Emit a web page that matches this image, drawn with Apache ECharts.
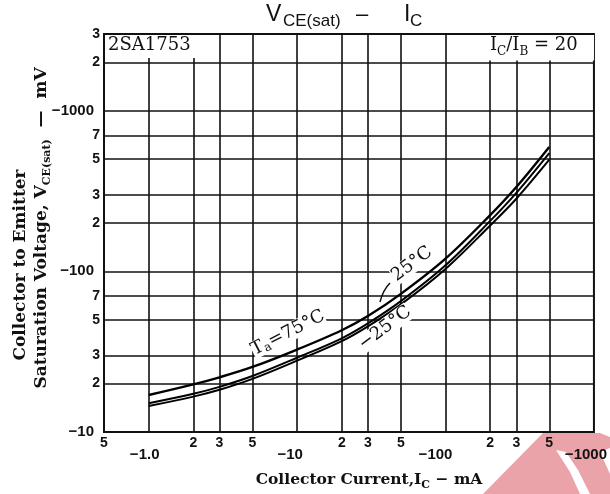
<!DOCTYPE html>
<html>
<head>
<meta charset="utf-8">
<script src="https://cdn.jsdelivr.net/npm/echarts@6/dist/echarts.min.js"></script>
<style>
html,body{margin:0;padding:0;background:#fff;}
#c{width:610px;height:494px;}
</style>
</head>
<body>
<div id="c"></div>
<script>
// Collector current (mA)
var currentMA = [1, 2, 3, 5, 10, 20, 30, 50, 100, 200, 300, 500];
// VCE(sat) (mV) for each ambient temperature
var vce75 = [17.0, 19.8, 21.9, 25.4, 32.6, 43.0, 52.7, 72.4, 120, 224, 335, 595];
var vce25 = [15.1, 17.3, 19.1, 22.3, 29.0, 38.3, 47.4, 65.2, 109, 206, 308, 545];
var vceM25 = [14.5, 16.6, 18.3, 21.4, 27.8, 36.8, 45.5, 62.3, 103.5, 193, 283, 495];

// Axis tick values
var xGrid = [1, 2, 3, 5, 10, 20, 30, 50, 100, 200, 300, 500];
var xMinorLabels = [0.5, 2, 3, 5, 20, 30, 50, 200, 300, 500];
var xDecadeLabels = [1, 10, 100, 1000];
var yGrid = [20, 30, 50, 70, 100, 200, 300, 500, 700, 1000, 2000];
var yMinorLabels = [20, 30, 50, 70, 200, 300, 500, 700, 2000, 3000];
var yDecadeLabels = [10, 100, 1000];

function pairs(ys) { return currentMA.map(function (x, i) { return [x, ys[i]]; }); }
function leadDigit(v) { return String(Math.round(v / Math.pow(10, Math.floor(Math.log10(v) + 1e-9)))); }

var chart = echarts.init(document.getElementById('c'), null, {renderer: 'canvas'});
var lineBlack = {color: '#111', width: 1.6};
var tickFont = {fontFamily: 'Liberation Sans', fontWeight: 'bold', fontSize: 14, color: '#111'};

function decStyle(pr) { return {fontFamily: 'Liberation Sans', fontWeight: 'bold', fontSize: 15, color: '#111', padding: [0, pr, 0, 0]}; }
var xDecadeRich = {a: decStyle(8), b: decStyle(14), c: decStyle(20), d: decStyle(16)};

var subRich = function (size, sub, lh, drop) {
  return {
    n: {font: 'bold ' + size + 'px "DejaVu Serif"', fill: '#111', verticalAlign: 'bottom', lineHeight: lh},
    s: {font: 'bold ' + sub + 'px "DejaVu Serif"', fill: '#111', verticalAlign: 'bottom', lineHeight: lh, padding: [0, 0, -drop, 0]}
  };
};

var option = {
  backgroundColor: '#fff',
  animation: false,
  grid: {left: 104, top: 34, width: 491, height: 398, show: true, borderColor: '#111', borderWidth: 2, backgroundColor: 'transparent'},
  xAxis: [{
    type: 'log', logBase: 10, min: 0.5, max: 1000, position: 'bottom',
    axisLine: {show: false},
    axisTick: {show: false, customValues: xGrid},
    splitLine: {show: true, lineStyle: lineBlack},
    axisLabel: Object.assign({customValues: xMinorLabels, margin: 4, formatter: function (v) { return leadDigit(v); }}, tickFont)
  }, {
    type: 'log', logBase: 10, min: 0.5, max: 1000, position: 'bottom',
    axisLine: {show: false}, axisTick: {show: false}, splitLine: {show: false},
    axisLabel: {customValues: xDecadeLabels, margin: 15, rich: xDecadeRich,
      formatter: function (v) {
        if (v === 1) return '{a|\u22121.0}';
        if (v === 10) return '{b|\u221210}';
        if (v === 100) return '{c|\u2212100}';
        return '{d|\u22121000}';
      }}
  }],
  yAxis: [{
    type: 'log', logBase: 10, min: 10, max: 3000,
    axisLine: {show: false},
    axisTick: {show: false, customValues: yGrid},
    splitLine: {show: true, lineStyle: lineBlack},
    axisLabel: Object.assign({customValues: yMinorLabels, margin: 4, formatter: function (v) { return leadDigit(v); }}, tickFont)
  }, {
    type: 'log', logBase: 10, min: 10, max: 3000, position: 'left',
    axisLine: {show: false}, axisTick: {show: false}, splitLine: {show: false},
    axisLabel: Object.assign({customValues: yDecadeLabels, margin: 10, formatter: function (v) { return '\u2212' + v; }}, tickFont, {fontSize: 15})
  }],
  series: [
    {name: 'Ta=75°C', type: 'line', smooth: 0.35, showSymbol: false, data: pairs(vce75), lineStyle: {color: '#000', width: 2.4}, z: 5},
    {name: '25°C', type: 'line', smooth: 0.35, showSymbol: false, data: pairs(vce25), lineStyle: {color: '#000', width: 2}, z: 5},
    {name: '-25°C', type: 'line', smooth: 0.35, showSymbol: false, data: pairs(vceM25), lineStyle: {color: '#000', width: 2}, z: 5}
  ],
  graphic: [
    // watermark
    {type: 'polygon', z: -10, shape: {points: [[483, 494], [543, 433], [600, 433], [610, 437], [610, 494]]}, style: {fill: '#eaa3a8'}},
    {type: 'polygon', z: -9, shape: {points: [[556, 450], [566, 452], [578, 470], [590, 494], [580, 494], [570, 472]]}, style: {fill: '#fff'}},
    {type: 'polygon', z: -9, shape: {points: [[600, 452], [610, 448], [610, 474]]}, style: {fill: '#fff'}},
    // title
    {type: 'text', left: 266, top: 3, style: {text: 'V', font: '23px "Liberation Sans"', fill: '#111'}},
    {type: 'text', left: 283, top: 13, style: {text: 'CE(sat)', font: '17px "Liberation Sans"', fill: '#111'}},
    {type: 'text', left: 356, top: 4, style: {text: '\u2013', font: '22px "Liberation Sans"', fill: '#111'}},
    {type: 'text', left: 404, top: 3, style: {text: 'I', font: '23px "Liberation Sans"', fill: '#111'}},
    {type: 'text', left: 410, top: 13, style: {text: 'C', font: '17px "Liberation Sans"', fill: '#111'}},
    // label boxes
    {type: 'rect', z: 50, shape: {x: 105, y: 35, width: 100, height: 23}, style: {fill: '#fff'}},
    {type: 'text', z: 51, left: 108, top: 36, style: {text: '2SA1753', font: '18px "DejaVu Serif"', fill: '#111'}},
    {type: 'rect', z: 50, shape: {x: 487.5, y: 35, width: 106.5, height: 25.5}, style: {fill: '#fff'}},
    {type: 'text', z: 51, left: 490, top: 36, style: {
      text: '{n|I}{s|C}{n|/I}{s|B}{n| = 20}',
      rich: {n: {font: '18px "DejaVu Serif"', fill: '#111', verticalAlign: 'bottom', lineHeight: 22},
             s: {font: '12px "DejaVu Serif"', fill: '#111', verticalAlign: 'bottom', lineHeight: 22, padding: [0, 0, -4, 0]}}
    }},
    // curve labels
    {type: 'text', z: 60, x: 288, y: 333, rotation: 27 * Math.PI / 180, style: {
      text: '{n|T}{s|a}{n|=75°C}', align: 'center', verticalAlign: 'middle',
      rich: {n: {font: '18px "DejaVu Serif"', fill: '#111', backgroundColor: '#fff'}, s: {font: '12px "DejaVu Serif"', fill: '#111', backgroundColor: '#fff', padding: [8, 0, 0, 0]}}
    }},
    {type: 'text', z: 60, x: 412, y: 264, rotation: 37 * Math.PI / 180, style: {text: '25°C', align: 'center', verticalAlign: 'middle', font: '18px "DejaVu Serif"', fill: '#111', backgroundColor: '#fff'}},
    {type: 'text', z: 60, x: 385, y: 328, rotation: 37 * Math.PI / 180, style: {text: '\u221225°C', align: 'center', verticalAlign: 'middle', font: '18px "DejaVu Serif"', fill: '#111', backgroundColor: '#fff'}},
    {type: 'bezierCurve', z: 60, shape: {x1: 390, y1: 283, x2: 380, y2: 302, cpx1: 383, cpy1: 290}, style: {stroke: '#111', lineWidth: 1.5, fill: null}},
    // axis titles
    {type: 'text', x: 369, y: 478, style: {
      text: '{n|Collector Current,I}{s|C}{n| \u2212 mA}', align: 'center', verticalAlign: 'middle',
      rich: subRich(15.5, 11, 20, 3)
    }},
    {type: 'text', x: 21, y: 265, rotation: Math.PI / 2, style: {text: 'Collector to Emitter', align: 'center', verticalAlign: 'middle', font: 'bold 17px "DejaVu Serif"', fill: '#111'}},
    {type: 'text', x: 40, y: 228, rotation: Math.PI / 2, style: {
      text: '{n|Saturation Voltage, V}{s|CE(sat)}{n|  \u2014  mV}', align: 'center', verticalAlign: 'middle',
      rich: subRich(17, 11, 20, 3)
    }}
  ]
};
chart.setOption(option);
</script>
</body>
</html>
